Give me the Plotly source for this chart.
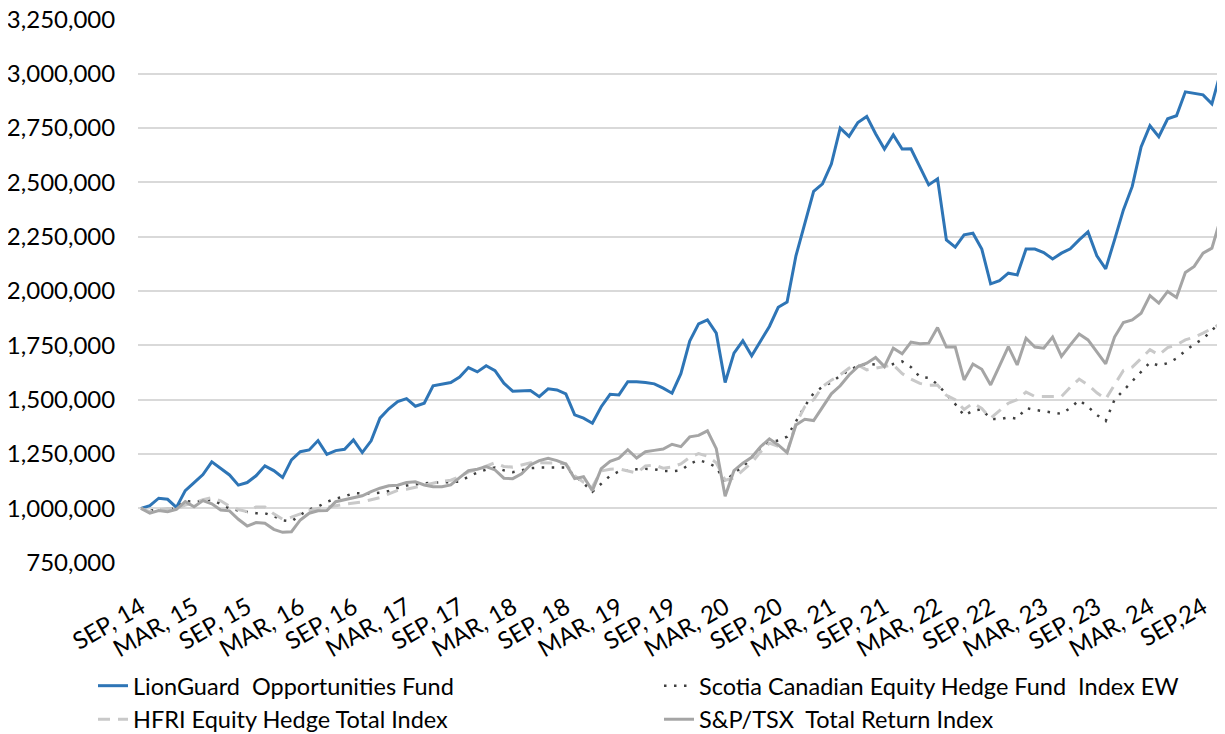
import pandas as pd
import plotly.graph_objects as go

# Monthly categories: Sep 2014 .. Dec 2024
months = [d.strftime("%b %Y") for d in pd.date_range("2014-09-01", periods=124, freq="MS")]
tick_months = months[0:121:6]
tick_labels = ["SEP, 14", "MAR, 15", "SEP, 15", "MAR, 16", "SEP, 16", "MAR, 17", "SEP, 17",
               "MAR, 18", "SEP, 18", "MAR, 19", "SEP, 19", "MAR, 20", "SEP, 20", "MAR, 21",
               "SEP, 21", "MAR, 22", "SEP, 22", "MAR, 23", "SEP, 23", "MAR, 24", "SEP,24"]

# Values in thousands of dollars (growth of $1,000,000)
lionguard_k = [1000, 1013, 1047, 1042, 1005, 1082, 1119, 1156, 1214, 1185,
               1154, 1107, 1119, 1150, 1196, 1174, 1142, 1223, 1261, 1269,
               1312, 1249, 1266, 1272, 1315, 1257, 1311, 1415, 1458, 1491,
               1505, 1470, 1484, 1564, 1573, 1579, 1604, 1648, 1628, 1656,
               1634, 1576, 1539, 1542, 1542, 1514, 1550, 1545, 1527, 1430,
               1415, 1392, 1468, 1525, 1522, 1583, 1583, 1579, 1573, 1553,
               1530, 1620, 1770, 1849, 1867, 1806, 1579, 1714, 1771, 1702,
               1768, 1837, 1925, 1949, 2162, 2312, 2458, 2493, 2584, 2749,
               2711, 2775, 2803, 2723, 2653, 2718, 2653, 2654, 2573, 2488,
               2516, 2235, 2202, 2258, 2266, 2193, 2033, 2048, 2082, 2074,
               2193, 2193, 2177, 2147, 2174, 2194, 2235, 2272, 2162, 2102,
               2235, 2373, 2481, 2663, 2760, 2710, 2792, 2806, 2916, 2910,
               2902, 2861, 3008, 2940]

scotia_k = [1000, 990, 995, 996, 1000, 1035, 1030, 1035, 1039, 1020,
            1000, 990, 985, 978, 978, 965, 945, 940, 970, 996,
            1008, 1030, 1045, 1055, 1070, 1070, 1068, 1072, 1080, 1094,
            1105, 1110, 1116, 1118, 1120, 1122, 1123, 1146, 1165, 1178,
            1188, 1175, 1167, 1175, 1185, 1188, 1188, 1188, 1188, 1150,
            1116, 1077, 1115, 1150, 1170, 1176, 1180, 1182, 1180, 1173,
            1171, 1175, 1205, 1222, 1210, 1190, 1120, 1165, 1190, 1235,
            1280, 1305, 1312, 1330, 1400, 1470, 1530, 1560, 1580, 1610,
            1635, 1655, 1665, 1662, 1652, 1665, 1676, 1650, 1605, 1600,
            1570, 1525, 1480, 1427, 1450, 1456, 1412, 1410, 1418, 1413,
            1462, 1453, 1447, 1440, 1435, 1462, 1498, 1468, 1430, 1402,
            1500, 1542, 1583, 1628, 1671, 1657, 1668, 1690, 1725, 1755,
            1780, 1820, 1855]

hfri_k = [1000, 985, 993, 1000, 998, 1015, 1025, 1040, 1050, 1035,
          1010, 995, 985, 1007, 1007, 975, 950, 960, 975, 990,
          1000, 1005, 1012, 1020, 1025, 1030, 1040, 1050, 1067, 1083,
          1088, 1097, 1104, 1115, 1125, 1130, 1146, 1168, 1178, 1195,
          1210, 1193, 1190, 1200, 1210, 1210, 1210, 1208, 1205, 1150,
          1120, 1100, 1172, 1180, 1182, 1172, 1163, 1195, 1200, 1185,
          1190, 1205, 1235, 1252, 1240, 1210, 1130, 1140, 1175, 1210,
          1260, 1300, 1285, 1260, 1390, 1468, 1500, 1560, 1590, 1614,
          1645, 1660, 1637, 1645, 1652, 1660, 1620, 1595, 1575, 1566,
          1568, 1520, 1500, 1455, 1484, 1460, 1415, 1450, 1484, 1500,
          1535, 1515, 1515, 1515, 1515, 1558, 1595, 1568, 1532, 1503,
          1572, 1635, 1650, 1690, 1730, 1706, 1740, 1752, 1775, 1788,
          1806, 1828, 1850]

tsx_k = [1000, 978, 990, 985, 996, 1031, 1008, 1036, 1021, 993,
         989, 950, 919, 935, 932, 904, 890, 893, 947, 978,
         989, 990, 1031, 1039, 1050, 1058, 1077, 1093, 1104, 1107,
         1119, 1123, 1108, 1100, 1100, 1108, 1142, 1174, 1180, 1192,
         1177, 1139, 1137, 1159, 1200, 1220, 1231, 1220, 1204, 1137,
         1146, 1082, 1183, 1217, 1231, 1270, 1232, 1261, 1267, 1273,
         1295, 1284, 1329, 1336, 1357, 1275, 1056, 1174, 1208, 1235,
         1284, 1320, 1292, 1257, 1384, 1410, 1404, 1468, 1527, 1564,
         1614, 1652, 1668, 1694, 1652, 1737, 1711, 1765, 1757, 1760,
         1832, 1742, 1742, 1591, 1664, 1640, 1568, 1656, 1744, 1660,
         1783, 1742, 1737, 1788, 1699, 1752, 1802, 1775, 1722, 1665,
         1788, 1855, 1867, 1898, 1979, 1944, 1998, 1970, 2085, 2113,
         2174, 2197, 2335, 2250]

series = [
    ("LionGuard\u00a0 Opportunities Fund", lionguard_k, dict(color="#2E75B6", width=3)),
    ("Scotia Canadian Equity Hedge Fund\u00a0 Index EW", scotia_k,
     dict(color="#404040", width=2.5, dash="2.5px,7.5px")),
    ("HFRI Equity Hedge Total Index", hfri_k, dict(color="#C9C9C9", width=3, dash="12px,8px")),
    ("S&P/TSX\u00a0 Total Return Index", tsx_k, dict(color="#A5A5A5", width=3)),
]

fig = go.Figure()
for name, vals, line in series:
    fig.add_trace(go.Scatter(x=months[:len(vals)], y=[v * 1000 for v in vals],
                             mode="lines", name=name, line=line))

FONT = "Lato, Carlito, 'Open Sans', sans-serif"
# page body adds an 8px margin, so the figure is 8px smaller than the window
fig.update_layout(
    width=1217, height=726,
    margin=dict(l=130, r=0, t=11, b=171, autoexpand=False),
    paper_bgcolor="white", plot_bgcolor="white",
    font=dict(family=FONT, size=22, color="#000000"),
    showlegend=True,
    legend=dict(orientation="h", x=-0.0414, xanchor="left", y=-0.1855, yanchor="top",
                entrywidth=521, font=dict(size=23.5), traceorder="normal",
                bgcolor="rgba(0,0,0,0)"),
)
fig.update_xaxes(type="category", categoryorder="array", categoryarray=months,
                 range=[-0.34, 122.48], tickmode="array", tickvals=tick_months,
                 ticktext=tick_labels, tickangle=-30, showgrid=False,
                 ticks="outside", ticklen=20, tickcolor="rgba(0,0,0,0)",
                 tickfont=dict(size=24), showline=False, zeroline=False,
                 automargin=False)
fig.update_yaxes(range=[749000, 3251000], tickmode="linear", dtick=250000, tick0=750000,
                 tickformat=",", showgrid=True, gridcolor="#D9D9D9", gridwidth=1.5,
                 ticks="outside", ticklen=17, tickcolor="rgba(0,0,0,0)",
                 tickfont=dict(size=24), ticklabeloverflow="allow",
                 zeroline=False, showline=False, automargin=False)

fig.write_html("out.html")
